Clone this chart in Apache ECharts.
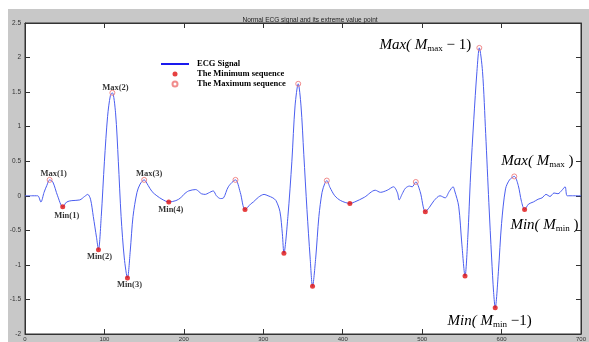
<!DOCTYPE html>
<html><head><meta charset="utf-8">
<script src="https://cdn.jsdelivr.net/npm/echarts@6/dist/echarts.min.js"></script>
<style>html,body{margin:0;padding:0;background:#fff;}
#bg{position:absolute;left:8px;top:9px;width:581px;height:333px;background:#c8c8c8;}
#c{position:absolute;left:0;top:0;width:589px;height:342px;}</style></head>
<body><div id="bg"></div><div id="c"></div>
<script>
// ---- data ----
const sigX = [0,8,16,20,24,27.5,31,35,41,47.5,52.5,59,69,75,79,82.5,86,90,92.5,96,100,104,107.5,110,114,117.5,121,125,129,132.5,136,141,145,150,155,160,166,172.5,181,190,196,200,206,215,219,222,227,231,237,241,246,250,256,265,271,277,284,287.5,294,301,306,312,316,321,324,326,331,336,340,344,347.5,351,355,359,362,366,370,374,377.5,380,384,390,397.5,409,415,427.5,441,447.5,456,464,469,471,475,479,484,487.5,492,497.5,504,509,515,522.5,529,534,539,541,546,550,554,557.5,561,565,569,572,576,580,584,587.5,590,592,596,600,605,610,616,621,625,629,634,640,646,651,656,661,666,671,676,680,682.5,687.5,700];
const sigY = [0,0,0,-0.09,0.05,0.15,0.23,0.2,0.0,-0.16,-0.09,-0.07,-0.06,-0.01,0.02,-0.05,-0.3,-0.6,-0.78,-0.3,0.5,1.15,1.45,1.49,1.2,0.5,-0.3,-0.9,-1.19,-0.8,-0.3,0.05,0.17,0.23,0.15,0.06,0.0,-0.05,-0.09,-0.07,-0.03,0.02,0.07,0.09,0.06,0.03,0.02,0.04,0.07,0.0,-0.04,-0.03,0.13,0.23,0.05,-0.2,-0.12,-0.09,-0.02,0.02,0.0,-0.03,-0.07,-0.23,-0.55,-0.83,-0.3,0.5,1.3,1.62,1.3,0.6,-0.2,-0.9,-1.31,-0.9,-0.3,0.05,0.18,0.22,0.12,0.0,-0.07,-0.11,-0.09,-0.02,0.08,0.05,0.08,0.13,0.04,-0.06,0.03,0.11,0.14,0.13,0.2,0.06,-0.23,-0.17,-0.07,0.0,-0.03,0.06,0.13,0.07,-0.15,-0.7,-1.16,-0.6,0.3,1.1,1.8,2.14,1.8,0.9,-0.1,-0.9,-1.4,-1.62,-1.1,-0.4,0.1,0.23,0.28,0.15,-0.08,-0.2,-0.12,-0.09,-0.05,-0.03,0.02,-0.01,0.04,0.03,0.08,0.13,0.0,0.0,0.0];
const minX = [47.5,92.5,129,181,277,326,362,409,504,554,592,629];
const minY = [-0.16,-0.78,-1.19,-0.09,-0.2,-0.83,-1.31,-0.11,-0.23,-1.16,-1.62,-0.2];
const maxX = [31,110,150,265,344,380,492,572,616];
const maxY = [0.23,1.49,0.23,0.23,1.62,0.22,0.2,2.14,0.28];
const minLabels = ['Min(1)','Min(2)','Min(3)','Min(4)'];
const maxLabels = ['Max(1)','Max(2)','Max(3)'];
const titleText = 'Normal ECG signal and its extreme value point';
const seriesNames = ['ECG Signal','The Minimum sequence','The Maximum sequence'];

// ---- styles / layout ----
const serif = 'Liberation Serif';
const smallLabel = {fontFamily: serif, fontWeight: 'bold', fontSize: 8.5, color: '#000'};
const minOffsets = [[4,9],[1,7],[2,7],[2,8]];
const maxOffsets = [[4,-6],[3,-5],[5,-6]];
const rich = {
  i: {fontFamily: serif, fontStyle: 'italic', fontSize: 15, color: '#000'},
  s: {fontFamily: serif, fontSize: 9, color: '#000', verticalAlign: 'bottom', padding: [7,0,0,0]},
  n: {fontFamily: serif, fontSize: 15, color: '#000'}
};
const annotations = [
  {text: '{i|Max( M}{s|max}{n| − 1)}', coord: [504, 2.18]},
  {text: '{i|Max( M}{s|max}{n| )}', coord: [645, 0.50]},
  {text: '{i|Min( M}{s|min}{n| )}', coord: [654, -0.43]},
  {text: '{i|Min( M}{s|min}{n| −1)}', coord: [585, -1.81]}
];

const sigData = sigX.map((x, i) => [x, sigY[i]]);
const minData = minX.map((x, i) => {
  const d = {value: [x, minY[i]]};
  if (minLabels[i]) d.label = Object.assign({show: true, position: 'inside', formatter: minLabels[i], offset: minOffsets[i]}, smallLabel);
  return d;
});
const maxData = maxX.map((x, i) => {
  const d = {value: [x, maxY[i]]};
  if (maxLabels[i]) d.label = Object.assign({show: true, position: 'inside', formatter: maxLabels[i], offset: maxOffsets[i]}, smallLabel);
  return d;
});

const axisCol = '#333';
function xAx(pos, showLabel) {
  return {type: 'value', min: 0, max: 700, interval: 100, position: pos,
    axisLine: {show: true, onZero: false, lineStyle: {color: axisCol, width: 1}},
    axisTick: {show: true, inside: true, length: 5, lineStyle: {color: axisCol}},
    axisLabel: {show: showLabel, fontSize: 6, color: '#333', margin: 2, fontFamily: 'Liberation Sans'},
    splitLine: {show: false}};
}
function yAx(pos, showLabel) {
  return {type: 'value', min: -2, max: 2.5, interval: 0.5, position: pos,
    axisLine: {show: true, onZero: false, lineStyle: {color: axisCol, width: 1}},
    axisTick: {show: true, inside: true, length: 5, lineStyle: {color: axisCol}},
    axisLabel: {show: showLabel, fontSize: 6.5, color: '#333', margin: 4, fontFamily: 'Liberation Sans'},
    splitLine: {show: false}};
}

const chart = echarts.init(document.getElementById('c'), null, {renderer: 'canvas'});
chart.setOption({
  animation: false,
  backgroundColor: 'transparent',
  title: {text: titleText, left: 305, top: 12, textAlign: 'center',
    textStyle: {fontSize: 6.5, fontWeight: 'normal', color: '#222', fontFamily: 'Liberation Sans'}},
  grid: {left: 25, right: 4, top: 23, bottom: 5, show: true, backgroundColor: '#fff', borderColor: axisCol, borderWidth: 1},
  legend: {orient: 'vertical', left: 155, top: 54, itemWidth: 28, itemHeight: 5, itemGap: 0,
    textStyle: Object.assign({lineHeight: 10, padding: [0,0,0,3]}, smallLabel),
    data: [
      {name: seriesNames[0], lineStyle: {color: '#1a1aee', width: 2},
        itemStyle: {color: 'rgba(0,0,0,0)', borderColor: 'rgba(0,0,0,0)', borderWidth: 0}},
      {name: seriesNames[1]},
      {name: seriesNames[2]}
    ]},
  xAxis: [xAx('bottom', true), xAx('top', false)],
  yAxis: [yAx('left', true), yAx('right', false)],
  series: [
    {name: seriesNames[0], type: 'line', data: sigData, symbol: 'none', smooth: 0.3,
      lineStyle: {color: '#4b5ef0', width: 1}, itemStyle: {color: '#4b5ef0'}, z: 2,
      markPoint: {symbol: 'circle', symbolSize: 0, silent: true,
        data: annotations.map(a => ({coord: a.coord, label: {show: true, position: 'inside', formatter: a.text, rich: rich}}))}},
    {name: seriesNames[1], type: 'scatter', data: minData, symbol: 'circle', symbolSize: 5,
      itemStyle: {color: '#e01010'}, z: 4},
    {name: seriesNames[2], type: 'scatter', data: maxData, symbol: 'circle', symbolSize: 5,
      itemStyle: {color: 'rgba(255,255,255,0)', borderColor: '#ee7070', borderWidth: 1}, z: 4}
  ]
});
</script></body></html>
